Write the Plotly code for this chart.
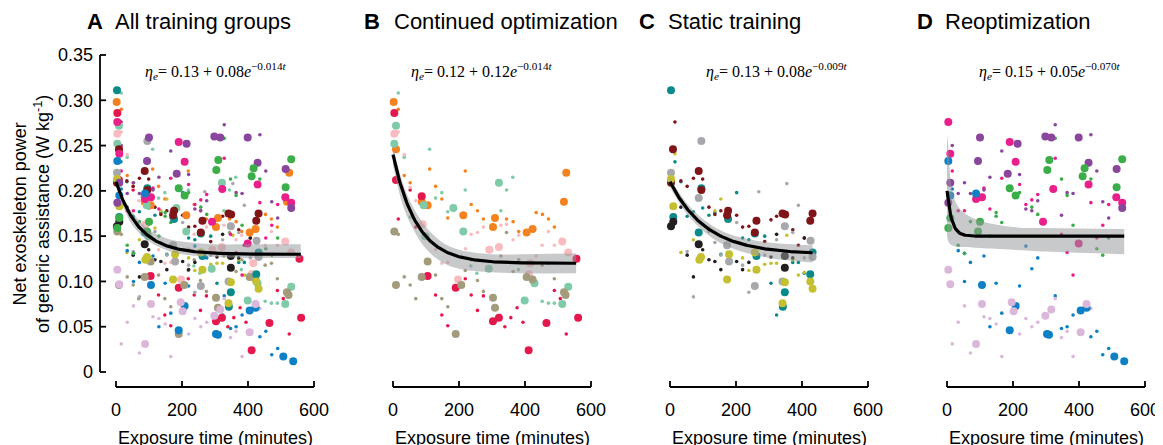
import math
import plotly.graph_objects as go

# ---------------- data (exposure time in minutes, power in W/kg) ----------------
# Panel B subjects (continued optimization)
orange_big = [(2, .298), (9, .246), (105, .184), (87, .188), (213, .173), (309, .170), (303, .160),
              (405, .154), (423, .158), (525, .220), (518, .188)]
orange_small = [(16, .290), (34, .217), (52, .209), (111, .224), (129, .205), (148, .191), (219, .222),
                (237, .185), (256, .178), (274, .169), (344, .169), (364, .166), (381, .155), (434, .176),
                (453, .174), (471, .169), (489, .160), (166, .170)]
crimson_big = [(4, .286), (9, .212), (87, .194), (105, .106), (190, .093), (303, .056), (321, .060),
               (411, .024), (465, .054), (556, .125), (561, .060)]
crimson_small = [(52, .201), (16, .169), (69, .160), (129, .085), (148, .063), (166, .051), (219, .103),
                 (237, .085), (256, .068), (274, .084), (357, .060), (339, .050), (376, .071), (394, .055),
                 (489, .090), (507, .081), (525, .042)]
mint_big = [(9, .272), (4, .252), (93, .184), (183, .181), (213, .155), (321, .209), (290, .114),
            (429, .098), (399, .079), (531, .094), (513, .075), (98, .150)]
mint_small = [(16, .308), (34, .237), (111, .246), (148, .198), (129, .192), (219, .201), (363, .215),
              (344, .201), (327, .178), (166, .177), (52, .171), (254, .109), (236, .117), (452, .078),
              (471, .076), (489, .076), (380, .113)]
lightpink_big = [(4, .263), (90, .163), (292, .135), (321, .138), (197, .102), (416, .120), (412, .108),
                 (513, .144), (531, .132)]
lightpink_small = [(34, .240), (16, .265), (69, .189), (52, .204), (129, .135), (148, .120), (166, .121),
                   (237, .152), (256, .154), (274, .160), (327, .162), (344, .163), (364, .146), (381, .151),
                   (452, .140), (471, .155), (489, .140), (434, .128), (220, .136)]
tan_big = [(4, .155), (9, .096), (105, .122), (87, .105), (207, .096), (303, .082), (309, .071),
           (190, .042), (405, .105), (423, .102), (518, .088), (523, .085)]
tan_small = [(16, .152), (34, .105), (52, .096), (69, .081), (129, .107), (148, .081), (166, .072),
             (219, .112), (237, .124), (256, .101), (274, .089), (327, .128), (344, .154), (364, .111),
             (381, .124), (452, .118), (471, .120), (489, .103)]

# Panel C subjects (static training)
teal_big = [(3, .311), (10, .171), (95, .203), (87, .154), (176, .169), (257, .153), (262, .128),
            (432, .132), (425, .108), (348, .088), (342, .072)]
teal_small = [(15, .232), (33, .210), (99, .181), (118, .173), (202, .198), (136, .176), (52, .172),
              (220, .148), (239, .146), (287, .150), (306, .098), (323, .063), (372, .121), (389, .121),
              (407, .109), (154, .130), (71, .177)]
darkred_big = [(9, .246), (87, .222), (95, .201), (176, .178), (173, .173), (262, .167), (257, .154),
               (341, .175), (349, .174), (432, .175), (425, .167), (3, .209)]
darkred_small = [(15, .276), (33, .211), (52, .205), (71, .214), (99, .213), (118, .182), (136, .174),
                 (154, .178), (202, .173), (220, .160), (239, .161), (287, .144), (306, .168), (323, .172),
                 (372, .157), (389, .140), (407, .148)]
gray_big = [(95, .255), (3, .220), (87, .192), (173, .140), (179, .122), (348, .161), (426, .145),
            (432, .127), (257, .095), (341, .100)]
gray_small = [(52, .133), (71, .083), (118, .155), (136, .143), (154, .129), (202, .165), (220, .118),
              (239, .088), (269, .199), (287, .129), (354, .208), (389, .184), (372, .154), (407, .126),
              (323, .146)]
olive_big = [(3, .213), (10, .183), (89, .124), (94, .127), (179, .130), (257, .132), (262, .113),
             (173, .102), (348, .099), (425, .100), (432, .092), (341, .076)]
olive_small = [(15, .241), (33, .132), (71, .146), (136, .178), (154, .191), (220, .126), (239, .112),
               (287, .119), (306, .120), (323, .120), (354, .151), (372, .124), (389, .107), (407, .110),
               (118, .159)]
black_big = [(3, .161), (10, .166), (87, .141), (348, .128), (348, .115)]
black_small = [(33, .182), (52, .129), (71, .105), (99, .135), (118, .124), (136, .122), (154, .113),
               (202, .122), (220, .113), (239, .121), (306, .127), (323, .152), (372, .126), (407, .148)]

# Panel D subjects (reoptimization)
pink_big = [(4, .276), (10, .241), (190, .254), (208, .232), (88, .191), (106, .193), (322, .202),
            (291, .166), (429, .207), (513, .193), (531, .187), (399, .142)]
pink_small = [(16, .222), (34, .178), (53, .178), (112, .203), (130, .180), (166, .214), (220, .207),
              (239, .185), (257, .190), (275, .196), (328, .236), (347, .152), (364, .132), (382, .107),
              (436, .187), (454, .148), (472, .162), (490, .185)]
blue_big = [(4, .233), (10, .195), (88, .197), (106, .096), (208, .073), (190, .046), (303, .042),
            (309, .041), (405, .068), (423, .071), (507, .017), (537, .012)]
blue_small = [(16, .202), (34, .134), (53, .131), (71, .121), (112, .128), (53, .100), (149, .098),
              (220, .095), (239, .139), (257, .114), (275, .126), (166, .065), (130, .050), (328, .084),
              (347, .048), (364, .050), (382, .063), (436, .039), (454, .045), (472, .019), (490, .026)]
purple_big = [(100, .259), (94, .233), (214, .252), (298, .260), (316, .259), (399, .259), (184, .219),
              (429, .231), (514, .224), (531, .181), (10, .209), (4, .187)]
purple_small = [(16, .250), (53, .209), (34, .197), (71, .197), (130, .215), (166, .244), (220, .218),
                (239, .180), (257, .178), (275, .189), (328, .273), (347, .173), (364, .198), (382, .197),
                (436, .262), (454, .222), (472, .188), (490, .170), (112, .201)]
green_big = [(310, .234), (304, .223), (417, .225), (411, .216), (531, .235), (514, .204), (190, .203),
             (208, .195), (100, .166), (94, .155), (10, .170), (4, .159)]
green_small = [(34, .140), (53, .131), (71, .166), (130, .150), (149, .176), (149, .172), (166, .165),
               (220, .198), (257, .182), (275, .174), (328, .258), (347, .213), (364, .195), (382, .162),
               (436, .213), (454, .136), (472, .129), (490, .148)]
lavender_big = [(4, .113), (10, .097), (106, .075), (88, .031), (196, .077), (202, .067), (298, .062),
                (316, .069), (405, .044), (423, .075)]
lavender_small = [(16, .031), (34, .055), (53, .073), (71, .021), (112, .061), (130, .059), (149, .053),
                  (166, .017), (220, .042), (239, .059), (257, .050), (275, .055), (328, .081), (347, .038),
                  (364, .045), (382, .017), (436, .070)]

# fitted models  eta = a + b * exp(c * t)
fit_a = [0.13, 0.08, -0.014]
fit_b = [0.12, 0.12, -0.014]
fit_c = [0.13, 0.08, -0.009]
fit_d = [0.15, 0.05, -0.070]
fit_end = [560, 555, 432, 537]

# confidence band edges
band_a_t = [0, 25, 50, 100, 150, 200, 300, 400, 560]
band_a_hi = [0.214, 0.190, 0.176, 0.157, 0.148, 0.144, 0.141, 0.141, 0.141]
band_a_lo = [0.205, 0.180, 0.162, 0.144, 0.135, 0.130, 0.127, 0.126, 0.126]
band_b_t = [0, 25, 50, 100, 150, 200, 300, 400, 555]
band_b_hi = [0.250, 0.214, 0.190, 0.160, 0.143, 0.135, 0.130, 0.130, 0.131]
band_b_lo = [0.228, 0.190, 0.166, 0.136, 0.121, 0.114, 0.110, 0.109, 0.109]
band_c_t = [0, 50, 100, 150, 200, 300, 432]
band_c_hi = [0.214, 0.187, 0.169, 0.157, 0.150, 0.143, 0.140]
band_c_lo = [0.204, 0.175, 0.156, 0.143, 0.135, 0.126, 0.121]
band_d_t = [0, 5, 10, 20, 30, 50, 100, 200, 300, 537]
band_d_hi = [0.262, 0.245, 0.215, 0.195, 0.185, 0.176, 0.167, 0.160, 0.159, 0.158]
band_d_lo = [0.150, 0.143, 0.141, 0.139, 0.138, 0.138, 0.137, 0.135, 0.133, 0.130]

titles = ["All training groups", "Continued optimization", "Static training", "Reoptimization"]
letters = ["A", "B", "C", "D"]
equations = [
    "<i>η</i><sub><i>e</i></sub>= 0.13 + 0.08<i>e</i><sup>−0.014<i>t</i></sup>",
    "<i>η</i><sub><i>e</i></sub>= 0.12 + 0.12<i>e</i><sup>−0.014<i>t</i></sup>",
    "<i>η</i><sub><i>e</i></sub>= 0.13 + 0.08<i>e</i><sup>−0.009<i>t</i></sup>",
    "<i>η</i><sub><i>e</i></sub>= 0.15 + 0.05<i>e</i><sup>−0.070<i>t</i></sup>",
]
x_ticks = [0, 200, 400, 600]
y_ticks = [0, 0.05, 0.10, 0.15, 0.20, 0.25, 0.30, 0.35]
y_ticktext = ["0", "0.05", "0.10", "0.15", "0.20", "0.25", "0.30", "0.35"]

colors = {
    "orange": "#f58220", "crimson": "#e4184c", "mint": "#7fcaa8", "lightpink": "#f8bcc0",
    "tan": "#a49b7d", "teal": "#0b8a8c", "darkred": "#7f1518", "gray": "#a7a8ab",
    "olive": "#c4c02f", "black": "#231f20", "pink": "#e9208b", "blue": "#0e80c5",
    "purple": "#8a459c", "green": "#3bae4a", "lavender": "#dbb8da",
}
group_b = [("orange", orange_big, orange_small), ("crimson", crimson_big, crimson_small),
           ("mint", mint_big, mint_small), ("lightpink", lightpink_big, lightpink_small),
           ("tan", tan_big, tan_small)]
group_c = [("teal", teal_big, teal_small), ("darkred", darkred_big, darkred_small),
           ("gray", gray_big, gray_small), ("olive", olive_big, olive_small),
           ("black", black_big, black_small)]
group_d = [("pink", pink_big, pink_small), ("blue", blue_big, blue_small),
           ("purple", purple_big, purple_small), ("green", green_big, green_small),
           ("lavender", lavender_big, lavender_small)]

panels = [
    (group_b + group_c + group_d, fit_a, (band_a_t, band_a_hi, band_a_lo)),
    (group_b, fit_b, (band_b_t, band_b_hi, band_b_lo)),
    (group_c, fit_c, (band_c_t, band_c_hi, band_c_lo)),
    (group_d, fit_d, (band_d_t, band_d_hi, band_d_lo)),
]

# ---------------- geometry (figure pixels; page body margin shifts figure by 8 px) ----------------
W, H = 1163, 445
OFF = 8
x0_px = [p - OFF for p in (116, 393, 670, 947)]   # pixel of t = 0 in each panel
span_px = 198                                      # pixels for 0..600 min
py_zero, py_top, py_xaxis = 372 - OFF, 55 - OFF, 387 - OFF
px_yaxis = 100 - OFF
PAD_L, PAD_R, PAD_B = 22, 8, 6                     # extra plot area around the spines
x_per_px = 600 / span_px
y_per_px = 0.35 / (py_zero - py_top)
y_spine = -(py_xaxis - py_zero) * y_per_px
y_lo = -(py_xaxis + PAD_B - py_zero) * y_per_px
TICK_PX = 6
AX_W = 1.8
FONT = "Liberation Sans, Arial, Helvetica, sans-serif"


def px_x(v):
    return (v - OFF) / W


def px_y(v):
    return (H - (v - OFF)) / H


fig = go.Figure()


def add(tr):
    fig.add_trace(tr)


for i, (groups, fit, band) in enumerate(panels):
    xa = "x" if i == 0 else f"x{i+1}"
    ya = "y" if i == 0 else f"y{i+1}"
    for name, big, small in groups:
        add(go.Scatter(x=[p[0] for p in small], y=[p[1] for p in small], mode="markers",
                       marker=dict(size=3.6, color=colors[name], line=dict(width=0)),
                       xaxis=xa, yaxis=ya, cliponaxis=False, showlegend=False, hoverinfo="skip"))
    for name, big, small in groups:
        add(go.Scatter(x=[p[0] for p in big], y=[p[1] for p in big], mode="markers",
                       marker=dict(size=8, color=colors[name], line=dict(width=0)),
                       xaxis=xa, yaxis=ya, cliponaxis=False, showlegend=False, hoverinfo="skip"))
    bt, bhi, blo = band
    add(go.Scatter(x=bt, y=bhi, mode="lines", line=dict(width=0, shape="spline"),
                   xaxis=xa, yaxis=ya, showlegend=False, hoverinfo="skip"))
    add(go.Scatter(x=bt, y=blo, mode="lines", line=dict(width=0, shape="spline"),
                   fill="tonexty", fillcolor="rgba(150,151,155,0.52)",
                   xaxis=xa, yaxis=ya, showlegend=False, hoverinfo="skip"))
    a, b, c = fit
    tt = [fit_end[i] * k / 200 for k in range(201)]
    add(go.Scatter(x=tt, y=[a + b * math.exp(c * t) for t in tt], mode="lines",
                   line=dict(color="black", width=3.2),
                   xaxis=xa, yaxis=ya, showlegend=False, hoverinfo="skip"))

    # detached x spine with upward ticks
    sx, sy = [x_ticks[0], x_ticks[-1]], [y_spine, y_spine]
    for v in x_ticks:
        sx += [None, v, v]
        sy += [None, y_spine, y_spine + TICK_PX * y_per_px]
    add(go.Scatter(x=sx, y=sy, mode="lines", line=dict(color="black", width=AX_W),
                   xaxis=xa, yaxis=ya, showlegend=False, hoverinfo="skip"))

    if i == 0:
        # detached y spine with inward ticks
        xs = -(x0_px[0] - px_yaxis) * x_per_px
        vx, vy = [xs, xs], [y_ticks[0], y_ticks[-1]]
        for v in y_ticks:
            vx += [None, xs, xs + TICK_PX * x_per_px]
            vy += [None, v, v]
        add(go.Scatter(x=vx, y=vy, mode="lines", line=dict(color="black", width=AX_W),
                       xaxis=xa, yaxis=ya, showlegend=False, hoverinfo="skip"))

# helper subplot carrying the tick labels of panel A's y axis
add(go.Scatter(x=[None], y=[None], xaxis="x5", yaxis="y5", showlegend=False, hoverinfo="skip"))

layout = dict(
    template="none",
    width=W, height=H, margin=dict(l=0, r=0, t=0, b=0, autoexpand=False),
    paper_bgcolor="white", plot_bgcolor="rgba(0,0,0,0)",
    font=dict(family=FONT, size=18, color="black"),
)
annotations = []
for i in range(4):
    xk = "xaxis" if i == 0 else f"xaxis{i+1}"
    yk = "yaxis" if i == 0 else f"yaxis{i+1}"
    ya_id = "y" if i == 0 else f"y{i+1}"
    xa_id = "x" if i == 0 else f"x{i+1}"
    layout[xk] = dict(
        domain=[(x0_px[i] - PAD_L) / W, (x0_px[i] + span_px + PAD_R) / W],
        range=[-PAD_L * x_per_px, 600 + PAD_R * x_per_px],
        anchor=ya_id, side="bottom", showline=False, ticks="",
        tickvals=x_ticks, tickfont=dict(size=18, family=FONT), ticklabelstandoff=4,
        showgrid=False, zeroline=False, fixedrange=True, automargin=False,
    )
    layout[yk] = dict(
        domain=[(H - py_xaxis - PAD_B) / H, (H - py_top + 4) / H],
        range=[y_lo, 0.35 + 4 * y_per_px],
        anchor=xa_id, showline=False, showticklabels=False, ticks="",
        showgrid=False, zeroline=False, fixedrange=True, automargin=False,
    )
    annotations.append(dict(text=f"<b>{letters[i]}</b>", x=px_x([85, 362, 637, 915][i]), y=px_y(21),
                            xref="paper", yref="paper", xanchor="left", yanchor="middle",
                            showarrow=False, font=dict(size=22, family=FONT)))
    annotations.append(dict(text=titles[i], x=px_x([113, 392, 666, 943][i]), y=px_y(21),
                            xref="paper", yref="paper", xanchor="left", yanchor="middle",
                            showarrow=False, font=dict(size=22, family=FONT)))
    annotations.append(dict(text=equations[i], x=px_x([216, 482, 777, 1050][i]), y=px_y(71),
                            xref="paper", yref="paper", xanchor="center", yanchor="middle",
                            showarrow=False,
                            font=dict(size=16, family="Liberation Serif, DejaVu Serif, serif")))
    annotations.append(dict(text="Exposure time (minutes)", x=(x0_px[i] + span_px / 2) / W,
                            y=px_y(438), xref="paper", yref="paper",
                            xanchor="center", yanchor="middle", showarrow=False,
                            font=dict(size=18, family=FONT)))

layout["xaxis5"] = dict(domain=[px_yaxis / W, (px_yaxis + 10) / W], range=[0, 10], anchor="y5",
                        showline=False, showticklabels=False, ticks="", showgrid=False,
                        zeroline=False, fixedrange=True, automargin=False)
layout["yaxis5"] = dict(
    domain=[(H - py_zero) / H, (H - py_top) / H], range=[0, 0.35], anchor="x5", side="left",
    showline=False, ticks="",
    tickvals=y_ticks, ticktext=y_ticktext, tickfont=dict(size=18, family=FONT),
    ticklabelstandoff=6,
    showgrid=False, zeroline=False, fixedrange=True, automargin=False,
)

annotations.append(dict(text="Net exoskeleton power<br>of generic assistance (W kg<sup>-1</sup>)",
                        x=px_x(31), y=px_y(214), xref="paper", yref="paper",
                        xanchor="center", yanchor="middle", textangle=-90, showarrow=False,
                        font=dict(size=18, family=FONT)))
layout["annotations"] = annotations
fig.update_layout(**layout)
fig.write_html("out.html")
